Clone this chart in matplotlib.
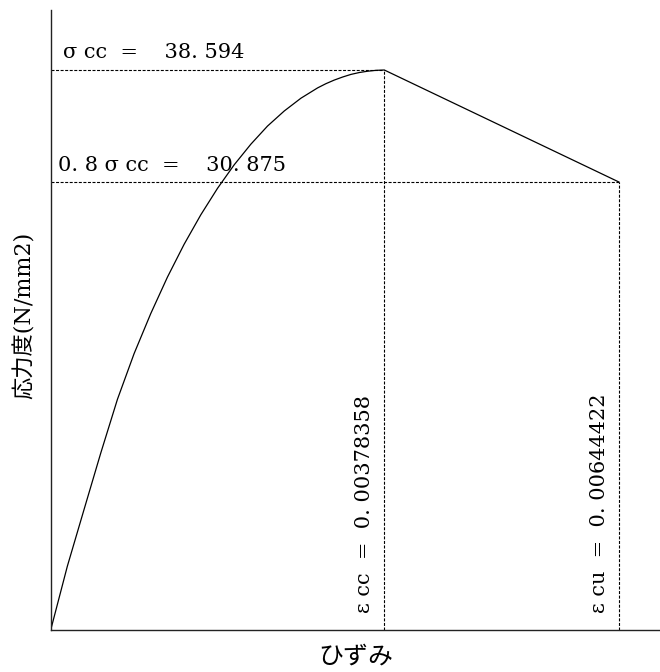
import matplotlib
matplotlib.use("Agg")
import matplotlib.pyplot as plt

# Data
eps_cc = 0.00378358
eps_cu = 0.00644422
sig_cc = 38.594
sig_cu = 30.875

strain = [0.0, 0.0000946, 0.000189, 0.000378, 0.000568, 0.000757, 0.000946,
          0.001135, 0.001324, 0.001513, 0.001703, 0.001892, 0.002081,
          0.002270, 0.002459, 0.002649, 0.002838, 0.003027, 0.003121,
          0.003216, 0.003311, 0.003405, 0.003500, 0.003594, 0.003689,
          0.00378358, 0.00644422]
stress = [0.0, 2.2, 4.4, 8.3, 12.2, 15.9, 19.05,
          21.81, 24.32, 26.58, 28.62, 30.44, 32.06,
          33.48, 34.73, 35.77, 36.65, 37.36, 37.65,
          37.90, 38.11, 38.29, 38.42, 38.51, 38.57,
          38.594, 30.875]

label_scc = "σ cc  =    38. 594"
label_scu = "0. 8 σ cc  =    30. 875"
label_ecc = "ε cc  =  0. 00378358"
label_ecu = "ε cu  =  0. 00644422"
xlabel = "ひずみ"
ylabel = "応力度(N/mm2)"

W, H = 660, 672
fig = plt.figure(figsize=(W / 100, H / 100), dpi=100)
ax_left = 50.7 / W
ax_bottom = (H - 630) / H
ax = fig.add_axes([ax_left, ax_bottom, 1 - ax_left, (630 - 10) / H])

xmax = eps_cc * (660 - 50.7) / (384.3 - 50.7)
ymax = sig_cc * (630 - 10) / (630 - 70)
ax.set_xlim(0, xmax)
ax.set_ylim(0, ymax)

ax.plot(strain, stress, color="black", lw=0.9)

dash = dict(color="black", lw=0.8, dashes=(2.7, 1.4))
ax.plot([0, eps_cc], [sig_cc, sig_cc], **dash)
ax.plot([0, eps_cu], [sig_cu, sig_cu], **dash)
ax.plot([eps_cc, eps_cc], [0, sig_cc], **dash)
ax.plot([eps_cu, eps_cu], [0, sig_cu], **dash)

for s in ["top", "right"]:
    ax.spines[s].set_visible(False)
for s in ["left", "bottom"]:
    ax.spines[s].set_linewidth(1.0)
    ax.spines[s].set_color("#222222")
ax.set_xticks([])
ax.set_yticks([])

serif = ["DejaVu Serif", "Noto Sans CJK JP"]
fs = 15
px = 72 / 100  # points per pixel

ax.annotate(label_scc, xy=(0, sig_cc), xytext=(12 * px, 11.7 * px),
            textcoords="offset points", ha="left", va="baseline",
            fontsize=fs, family=serif)
ax.annotate(label_scu, xy=(0, sig_cu), xytext=(7 * px, 11 * px),
            textcoords="offset points", ha="left", va="baseline",
            fontsize=fs, family=serif)
ax.annotate(label_ecc, xy=(eps_cc, 0), xytext=(-10 * px, 17 * px),
            textcoords="offset points", ha="right", va="bottom",
            rotation=90, fontsize=fs, family=serif)
ax.annotate(label_ecu, xy=(eps_cu, 0), xytext=(-10 * px, 17 * px),
            textcoords="offset points", ha="right", va="bottom",
            rotation=90, fontsize=fs, family=serif)

fig.text((50.7 + 660) / 2 / W, 1 - 657 / H, xlabel, ha="center", va="center",
         fontsize=18, family=["Noto Sans CJK JP"])
fig.text(25 / W, 1 - 315 / H, ylabel, ha="center", va="center", rotation=90,
         fontsize=16, family=serif)

fig.savefig("out.png", dpi=100)
